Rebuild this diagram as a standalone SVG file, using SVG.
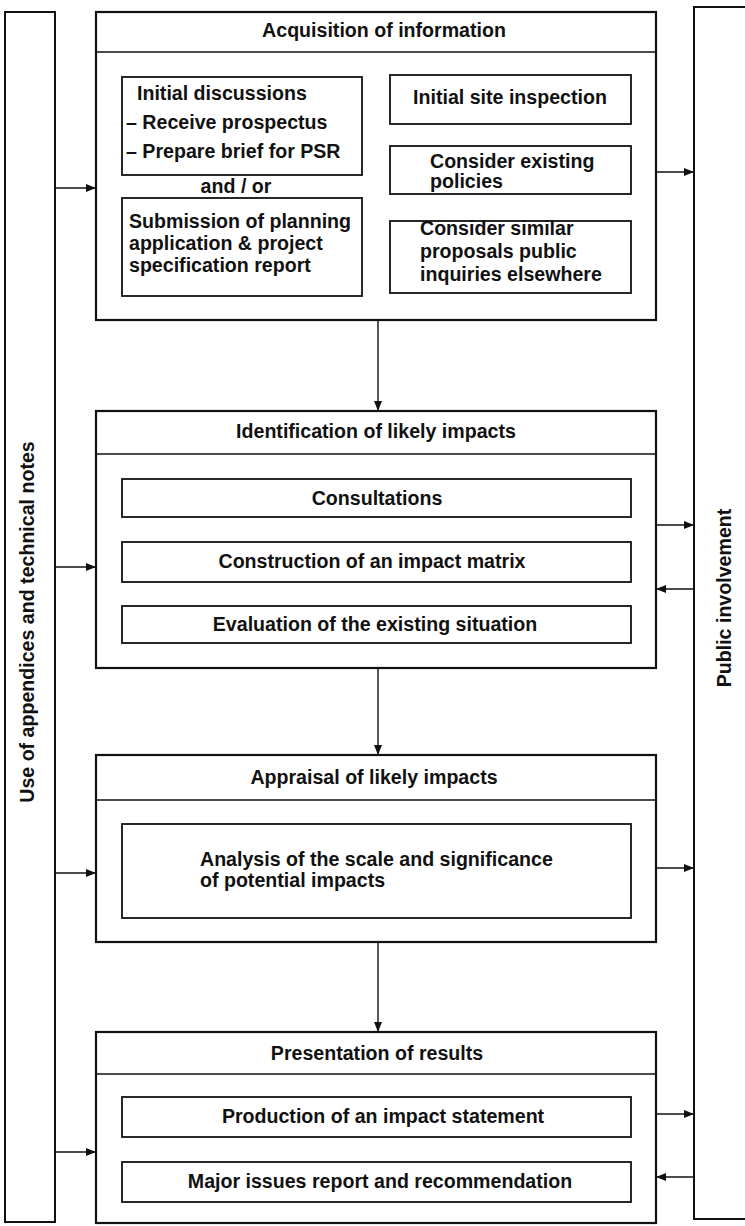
<svg xmlns="http://www.w3.org/2000/svg" width="745" height="1226" viewBox="0 0 745 1226">
<style>
.outer{fill:#fff;stroke:#111;stroke-width:2.2}
.inner{fill:#fff;stroke:#111;stroke-width:1.8}
.bar{fill:#fff;stroke:#111;stroke-width:2}
.hl{stroke:#111;stroke-width:1.6}
.t{font-family:"Liberation Sans",Arial,sans-serif;font-weight:bold;font-size:19.6px;fill:#111}
.c{text-anchor:middle}
.conn line{stroke:#111;stroke-width:1.4}
</style>
<defs>
<marker id="ah" viewBox="0 0 10 10" refX="10" refY="5" markerWidth="10" markerHeight="10" markerUnits="userSpaceOnUse" orient="auto">
<path d="M0,1 L10,5 L0,9 z" fill="#111"/>
</marker>
</defs>
<rect width="745" height="1226" fill="#fff"/>

<g id="appendices">
<rect class="bar" x="5" y="12" width="50" height="1210"/>
<text class="t c" transform="translate(34,622) rotate(-90)">Use of appendices and technical notes</text>
</g>
<g id="public">
<rect class="bar" x="694" y="7" width="60" height="1212"/>
<text class="t c" transform="translate(731,598) rotate(-90)">Public involvement</text>
</g>

<g id="acquisition">
<rect class="outer" x="96" y="12" width="560" height="308"/>
<line class="hl" x1="96" y1="52" x2="656" y2="52"/>
<text class="t c" x="384" y="37">Acquisition of information</text>
<g id="initial-discussions">
<rect class="inner" x="122" y="77" width="240" height="98"/>
<text class="t" x="137" y="100">Initial discussions</text>
<text class="t" x="126" y="129">– Receive prospectus</text>
<text class="t" x="126" y="158">– Prepare brief for PSR</text>
</g>
<text class="t c" x="236" y="193">and / or</text>
<g id="submission">
<rect class="inner" x="122" y="198" width="240" height="98"/>
<text class="t" x="129" y="228">Submission of planning</text>
<text class="t" x="129" y="250">application &amp; project</text>
<text class="t" x="129" y="272">specification report</text>
</g>
<g id="site-inspection">
<rect class="inner" x="390" y="75" width="241" height="49"/>
<text class="t c" x="510" y="104">Initial site inspection</text>
</g>
<g id="existing-policies">
<rect class="inner" x="390" y="146" width="241" height="48"/>
<text class="t" x="430" y="168">Consider existing</text>
<text class="t" x="430" y="188">policies</text>
</g>
<g id="similar-proposals">
<rect class="inner" x="390" y="221" width="241" height="72"/>
<text class="t" x="420" y="235">Consider similar</text>
<text class="t" x="420" y="258">proposals public</text>
<text class="t" x="420" y="281">inquiries elsewhere</text>
</g>
</g>

<g id="identification">
<rect class="outer" x="96" y="411" width="560" height="257"/>
<line class="hl" x1="96" y1="454" x2="656" y2="454"/>
<text class="t c" x="376" y="438">Identification of likely impacts</text>
<g id="consultations">
<rect class="inner" x="122" y="479" width="509" height="38"/>
<text class="t c" x="377" y="505">Consultations</text>
</g>
<g id="impact-matrix">
<rect class="inner" x="122" y="542" width="509" height="40"/>
<text class="t c" x="372" y="568">Construction of an impact matrix</text>
</g>
<g id="existing-situation">
<rect class="inner" x="122" y="606" width="509" height="37"/>
<text class="t c" x="375" y="631">Evaluation of the existing situation</text>
</g>
</g>

<g id="appraisal">
<rect class="outer" x="96" y="755" width="560" height="187"/>
<line class="hl" x1="96" y1="800" x2="656" y2="800"/>
<text class="t c" x="374" y="784">Appraisal of likely impacts</text>
<g id="analysis">
<rect class="inner" x="122" y="824" width="509" height="94"/>
<text class="t" x="200" y="866">Analysis of the scale and significance</text>
<text class="t" x="200" y="887">of potential impacts</text>
</g>
</g>

<g id="presentation">
<rect class="outer" x="96" y="1032" width="560" height="191"/>
<line class="hl" x1="96" y1="1074" x2="656" y2="1074"/>
<text class="t c" x="377" y="1060">Presentation of results</text>
<g id="impact-statement">
<rect class="inner" x="122" y="1097" width="509" height="40"/>
<text class="t c" x="383" y="1123">Production of an impact statement</text>
</g>
<g id="major-issues">
<rect class="inner" x="122" y="1162" width="509" height="40"/>
<text class="t c" x="380" y="1188">Major issues report and recommendation</text>
</g>
</g>

<g id="connectors" class="conn">
<line x1="55" y1="188" x2="96" y2="188" marker-end="url(#ah)"/>
<line x1="55" y1="567" x2="96" y2="567" marker-end="url(#ah)"/>
<line x1="55" y1="873" x2="96" y2="873" marker-end="url(#ah)"/>
<line x1="55" y1="1152" x2="96" y2="1152" marker-end="url(#ah)"/>
<line x1="656" y1="172" x2="694" y2="172" marker-end="url(#ah)"/>
<line x1="656" y1="525" x2="694" y2="525" marker-end="url(#ah)"/>
<line x1="694" y1="589" x2="656" y2="589" marker-end="url(#ah)"/>
<line x1="656" y1="868" x2="694" y2="868" marker-end="url(#ah)"/>
<line x1="656" y1="1114" x2="694" y2="1114" marker-end="url(#ah)"/>
<line x1="694" y1="1177" x2="656" y2="1177" marker-end="url(#ah)"/>
<line x1="378" y1="320" x2="378" y2="411" marker-end="url(#ah)"/>
<line x1="378" y1="668" x2="378" y2="755" marker-end="url(#ah)"/>
<line x1="378" y1="942" x2="378" y2="1032" marker-end="url(#ah)"/>
</g>
</svg>
